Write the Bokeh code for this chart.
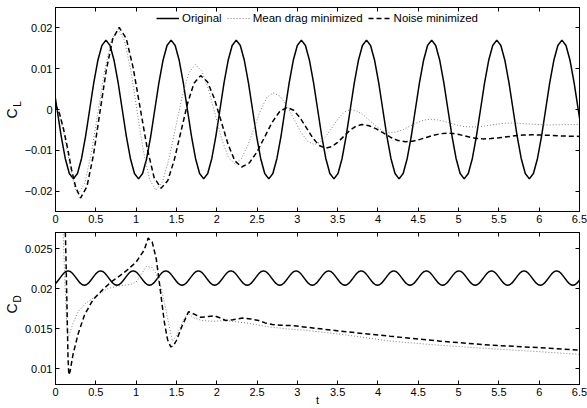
import numpy as np
from bokeh.plotting import figure
from bokeh.models import (Range1d, LinearAxis, FixedTicker, CustomJSTickFormatter,
                          Legend, LegendItem)
from bokeh.layouts import column
from bokeh.embed import file_html
from bokeh.resources import INLINE

FONT = "Liberation Sans"

# ---------------- data ----------------
t_ticks = [0, 0.5, 1, 1.5, 2, 2.5, 3, 3.5, 4, 4.5, 5, 5.5, 6, 6.5]
cl_ticks = [-0.02, -0.01, 0, 0.01, 0.02]
cd_ticks = [0.01, 0.015, 0.02, 0.025]
series_names = ["Original", "Mean drag minimized", "Noise minimized"]

# Original lift coefficient (sampled on a regular time grid)
t_cl_original = np.arange(-1, 130) * 0.0505 + 0.02
cl_original = [
    0.0065, 0.0, -0.0065, -0.012, -0.0157, -0.017, -0.0157, -0.012, -0.0065, 0.0, 0.0065, 0.012, 0.0157, 0.017, 0.0157, 0.012,
    0.0065, 0.0, -0.0065, -0.012, -0.0157, -0.017, -0.0157, -0.012, -0.0065, 0.0, 0.0065, 0.012, 0.0157, 0.017, 0.0157, 0.012,
    0.0065, 0.0, -0.0065, -0.012, -0.0157, -0.017, -0.0157, -0.012, -0.0065, 0.0, 0.0065, 0.012, 0.0157, 0.017, 0.0157, 0.012,
    0.0065, 0.0, -0.0065, -0.012, -0.0157, -0.017, -0.0157, -0.012, -0.0065, 0.0, 0.0065, 0.012, 0.0157, 0.017, 0.0157, 0.012,
    0.0065, 0.0, -0.0065, -0.012, -0.0157, -0.017, -0.0157, -0.012, -0.0065, 0.0, 0.0065, 0.012, 0.0157, 0.017, 0.0157, 0.012,
    0.0065, 0.0, -0.0065, -0.012, -0.0157, -0.017, -0.0157, -0.012, -0.0065, 0.0, 0.0065, 0.012, 0.0157, 0.017, 0.0157, 0.012,
    0.0065, 0.0, -0.0065, -0.012, -0.0157, -0.017, -0.0157, -0.012, -0.0065, 0.0, 0.0065, 0.012, 0.0157, 0.017, 0.0157, 0.012,
    0.0065, 0.0, -0.0065, -0.012, -0.0157, -0.017, -0.0157, -0.012, -0.0065, 0.0, 0.0065, 0.012, 0.0157, 0.017, 0.0157, 0.012,
    0.0065, 0.0, -0.0065,
]

# Original drag coefficient
t_cd_original = np.arange(-1, 259) * 0.02525 + 0.0045
cd_original = [
    0.02047, 0.02066, 0.02096, 0.0213, 0.02164, 0.02194, 0.02213, 0.0222, 0.02213, 0.02194, 0.02164, 0.0213, 0.02096, 0.02066, 0.02047, 0.0204,
    0.02047, 0.02066, 0.02096, 0.0213, 0.02164, 0.02194, 0.02213, 0.0222, 0.02213, 0.02194, 0.02164, 0.0213, 0.02096, 0.02066, 0.02047, 0.0204,
    0.02047, 0.02066, 0.02096, 0.0213, 0.02164, 0.02194, 0.02213, 0.0222, 0.02213, 0.02194, 0.02164, 0.0213, 0.02096, 0.02066, 0.02047, 0.0204,
    0.02047, 0.02066, 0.02096, 0.0213, 0.02164, 0.02194, 0.02213, 0.0222, 0.02213, 0.02194, 0.02164, 0.0213, 0.02096, 0.02066, 0.02047, 0.0204,
    0.02047, 0.02066, 0.02096, 0.0213, 0.02164, 0.02194, 0.02213, 0.0222, 0.02213, 0.02194, 0.02164, 0.0213, 0.02096, 0.02066, 0.02047, 0.0204,
    0.02047, 0.02066, 0.02096, 0.0213, 0.02164, 0.02194, 0.02213, 0.0222, 0.02213, 0.02194, 0.02164, 0.0213, 0.02096, 0.02066, 0.02047, 0.0204,
    0.02047, 0.02066, 0.02096, 0.0213, 0.02164, 0.02194, 0.02213, 0.0222, 0.02213, 0.02194, 0.02164, 0.0213, 0.02096, 0.02066, 0.02047, 0.0204,
    0.02047, 0.02066, 0.02096, 0.0213, 0.02164, 0.02194, 0.02213, 0.0222, 0.02213, 0.02194, 0.02164, 0.0213, 0.02096, 0.02066, 0.02047, 0.0204,
    0.02047, 0.02066, 0.02096, 0.0213, 0.02164, 0.02194, 0.02213, 0.0222, 0.02213, 0.02194, 0.02164, 0.0213, 0.02096, 0.02066, 0.02047, 0.0204,
    0.02047, 0.02066, 0.02096, 0.0213, 0.02164, 0.02194, 0.02213, 0.0222, 0.02213, 0.02194, 0.02164, 0.0213, 0.02096, 0.02066, 0.02047, 0.0204,
    0.02047, 0.02066, 0.02096, 0.0213, 0.02164, 0.02194, 0.02213, 0.0222, 0.02213, 0.02194, 0.02164, 0.0213, 0.02096, 0.02066, 0.02047, 0.0204,
    0.02047, 0.02066, 0.02096, 0.0213, 0.02164, 0.02194, 0.02213, 0.0222, 0.02213, 0.02194, 0.02164, 0.0213, 0.02096, 0.02066, 0.02047, 0.0204,
    0.02047, 0.02066, 0.02096, 0.0213, 0.02164, 0.02194, 0.02213, 0.0222, 0.02213, 0.02194, 0.02164, 0.0213, 0.02096, 0.02066, 0.02047, 0.0204,
    0.02047, 0.02066, 0.02096, 0.0213, 0.02164, 0.02194, 0.02213, 0.0222, 0.02213, 0.02194, 0.02164, 0.0213, 0.02096, 0.02066, 0.02047, 0.0204,
    0.02047, 0.02066, 0.02096, 0.0213, 0.02164, 0.02194, 0.02213, 0.0222, 0.02213, 0.02194, 0.02164, 0.0213, 0.02096, 0.02066, 0.02047, 0.0204,
    0.02047, 0.02066, 0.02096, 0.0213, 0.02164, 0.02194, 0.02213, 0.0222, 0.02213, 0.02194, 0.02164, 0.0213, 0.02096, 0.02066, 0.02047, 0.0204,
    0.02047, 0.02066, 0.02096, 0.0213,
]

# Mean drag minimized: lift
t_cl_meandrag = [
    0, 0.05, 0.1, 0.15, 0.2, 0.24, 0.28, 0.3625, 0.445, 0.5275, 0.61, 0.6925,
    0.775, 0.853, 0.932, 1.01, 1.088, 1.167, 1.245, 1.327, 1.408, 1.49, 1.572, 1.653,
    1.735, 1.817, 1.898, 1.98, 2.062, 2.143, 2.225, 2.304, 2.383, 2.4625, 2.542, 2.621,
    2.70, 2.785, 2.87, 2.955, 3.04, 3.125, 3.21, 3.285, 3.36, 3.435, 3.51, 3.585,
    3.66, 3.742, 3.823, 3.905, 3.987, 4.068, 4.15, 4.233, 4.317, 4.4, 4.483, 4.567,
    4.65, 4.733, 4.817, 4.9, 4.983, 5.067, 5.15, 5.235, 5.32, 5.405, 5.49, 5.575,
    5.66, 5.9, 6.1, 6.3, 6.5,
]
cl_meandrag = [
    0.0012, -0.0012, -0.0055, -0.0105, -0.0157, -0.0192, -0.0208, -0.01809, -0.01067, -0.00055, 0.00958, 0.01699,
    0.0197, 0.01705, 0.00982, -0.00005, -0.00993, -0.01715, -0.0198, -0.01774, -0.0121, -0.0044, 0.0033, 0.00894,
    0.011, 0.00937, 0.00492, -0.00115, -0.00723, -0.01167, -0.0133, -0.01213, -0.00895, -0.0046, -0.00025, 0.00293,
    0.0041, 0.00325, 0.00092, -0.00225, -0.00543, -0.00775, -0.0086, -0.00802, -0.00645, -0.0043, -0.00215, -0.00058,
    0.0, -0.00038, -0.00143, -0.00285, -0.00428, -0.00532, -0.0057, -0.00548, -0.00488, -0.00405, -0.00323, -0.00262,
    -0.0024, -0.00253, -0.00288, -0.00335, -0.00383, -0.00417, -0.0043, -0.00423, -0.00405, -0.0038, -0.00355, -0.00337,
    -0.0033, -0.0036, -0.0038, -0.0037, -0.0037,
]

# Noise minimized: lift
t_cl_noise = [
    0, 0.05, 0.1, 0.15, 0.2, 0.25, 0.31, 0.39, 0.47, 0.55, 0.63, 0.71,
    0.79, 0.877, 0.963, 1.05, 1.137, 1.223, 1.31, 1.392, 1.473, 1.555, 1.637, 1.718,
    1.80, 1.885, 1.97, 2.055, 2.14, 2.225, 2.31, 2.404, 2.498, 2.593, 2.687, 2.781,
    2.875, 2.954, 3.033, 3.113, 3.192, 3.271, 3.35, 3.425, 3.5, 3.575, 3.65, 3.725,
    3.80, 3.89, 3.98, 4.07, 4.16, 4.25, 4.34, 4.427, 4.513, 4.6, 4.687, 4.773,
    4.86, 4.933, 5.007, 5.08, 5.153, 5.227, 5.30, 5.4, 5.5, 5.6, 5.7, 5.8,
    5.9, 6.1, 6.3, 6.5,
]
cl_noise = [
    0.0012, -0.001, -0.0048, -0.0095, -0.0148, -0.019, -0.0217, -0.0189, -0.01125, -0.0008, 0.00965, 0.0173,
    0.0201, 0.01746, 0.01025, 0.0004, -0.00945, -0.01666, -0.0193, -0.01745, -0.0124, -0.0055, 0.0014, 0.00645,
    0.0083, 0.0068, 0.0027, -0.0029, -0.0085, -0.0126, -0.0141, -0.0131, -0.01045, -0.0068, -0.00315, -0.00048,
    0.0005, -0.00017, -0.002, -0.0045, -0.007, -0.00883, -0.0095, -0.00911, -0.00805, -0.0066, -0.00515, -0.00409,
    -0.0037, -0.00398, -0.00475, -0.0058, -0.00685, -0.00762, -0.0079, -0.00776, -0.00738, -0.00685, -0.00633, -0.00594,
    -0.0058, -0.00589, -0.00615, -0.0065, -0.00685, -0.00711, -0.0072, -0.00713, -0.00695, -0.0067, -0.00645, -0.00627,
    -0.0062, -0.0063, -0.0065, -0.0066,
]

# Mean drag minimized: drag
t_cd_meandrag = [
    0, 0.085, 0.095, 0.115, 0.14, 0.155, 0.17, 0.218, 0.28, 0.38,
    0.51, 0.65, 0.77, 0.85, 0.93, 1.0, 1.06, 1.13, 1.2, 1.245,
    1.307, 1.369, 1.41, 1.45, 1.5, 1.58, 1.64, 1.72, 1.82, 1.95,
    2.11, 2.36, 2.65, 2.92, 3.08, 3.6, 4.15, 4.77, 5.39, 6.0, 6.5,
]
cd_meandrag = [
    0.05, 0.03, 0.027, 0.021, 0.0155, 0.0139, 0.0142, 0.0157, 0.0171, 0.0182,
    0.0191, 0.0200, 0.0203, 0.0204, 0.0205, 0.0208, 0.0217, 0.0228, 0.0226, 0.0219,
    0.0202, 0.0174, 0.0153, 0.0134, 0.0141, 0.0159, 0.0169, 0.0163, 0.016, 0.0159,
    0.016, 0.0157, 0.0152, 0.0149, 0.0148, 0.0142, 0.01342, 0.0129, 0.01248, 0.0121, 0.01177,
]

# Noise minimized: drag
t_cd_noise = [
    0, 0.11, 0.125, 0.14, 0.155, 0.165, 0.18, 0.218, 0.28, 0.36,
    0.465, 0.6, 0.7, 0.8, 0.9, 1.0, 1.1, 1.15, 1.2, 1.25,
    1.3, 1.35, 1.39, 1.43, 1.46, 1.5, 1.57, 1.65, 1.72, 1.8,
    1.9, 1.97, 2.05, 2.11, 2.2, 2.32, 2.42, 2.52, 2.6, 2.69,
    2.8, 2.92, 3.08, 3.53, 4.15, 4.77, 5.39, 6.01, 6.5,
]
cd_noise = [
    0.05, 0.031, 0.026, 0.019, 0.0115, 0.0092, 0.0096, 0.0118, 0.0143, 0.0167,
    0.0186, 0.0200, 0.0209, 0.0216, 0.0224, 0.0233, 0.0248, 0.0263, 0.0258, 0.0237,
    0.0198, 0.0158, 0.0136, 0.0127, 0.0128, 0.0135, 0.0153, 0.0171, 0.0168, 0.0164,
    0.0165, 0.0166, 0.0163, 0.016, 0.0161, 0.0163, 0.0162, 0.016, 0.0157, 0.0155,
    0.0154, 0.01537, 0.0152, 0.01467, 0.01404, 0.01342, 0.01293, 0.0126, 0.0123,
]

# ---------------- styles ----------------
STYLE_ORIG = dict(line_color="black", line_width=1.5)
STYLE_DRAG = dict(line_color="#808080", line_width=1.0, line_dash="1 2")
STYLE_NOISE = dict(line_color="black", line_width=1.5, line_dash="5 3")
NBSP = "\u00a0"

TICK_JS = r"""
const v = parseFloat(tick.toFixed(6));
if (v < 0) { return "\u2212" + String(-v); }
return String(v);
"""


def hide_labels(ax):
    ax.major_label_text_font_size = "0px"
    ax.major_label_text_color = None
    ax.major_label_standoff = 0


def make_fig(height, y_lo, y_hi, yticks, min_top, min_bottom,
             main_sym, sub_sym, sub_standoff, main_standoff):
    p = figure(width=587, height=height,
               x_range=Range1d(0, 6.5), y_range=Range1d(y_lo, y_hi),
               output_backend="svg", toolbar_location=None,
               min_border_left=54, min_border_right=8,
               min_border_top=min_top, min_border_bottom=min_bottom,
               background_fill_color="white", border_fill_color="white",
               outline_line_color="black", outline_line_width=1)
    p.grid.visible = False
    p.xaxis.ticker = FixedTicker(ticks=t_ticks)
    p.yaxis.ticker = FixedTicker(ticks=yticks)
    p.xaxis.formatter = CustomJSTickFormatter(code=TICK_JS)
    p.yaxis.formatter = CustomJSTickFormatter(code=TICK_JS)
    top = LinearAxis(ticker=FixedTicker(ticks=t_ticks))
    right = LinearAxis(ticker=FixedTicker(ticks=yticks))
    p.add_layout(top, "above")
    p.add_layout(right, "right")
    for ax in p.axis:
        ax.major_tick_in = 4
        ax.major_tick_out = 0
        ax.minor_tick_line_color = None
        ax.axis_line_color = "black"
        ax.major_tick_line_color = "black"
        ax.major_label_text_font = FONT
        ax.major_label_text_font_size = "11px"
        ax.major_label_text_color = "black"
        ax.major_label_standoff = 3
    hide_labels(top)
    hide_labels(right)

    # y-axis label: subscript on the main (inner) axis, main symbol on an outer axis
    inner = p.left[0]
    inner.axis_label = sub_sym
    inner.axis_label_text_font = FONT
    inner.axis_label_text_font_size = "10px"
    inner.axis_label_text_font_style = "normal"
    inner.axis_label_text_color = "black"
    inner.axis_label_standoff = sub_standoff

    outer = LinearAxis(ticker=FixedTicker(ticks=[]), axis_label=main_sym,
                       axis_label_text_font=FONT, axis_label_text_font_size="14px",
                       axis_label_text_font_style="normal", axis_label_text_color="black",
                       axis_label_standoff=main_standoff,
                       axis_line_color=None, major_tick_line_color=None,
                       minor_tick_line_color=None, major_tick_in=0, major_tick_out=0)
    hide_labels(outer)
    p.add_layout(outer, "left")
    return p


# ---------------- top: lift ----------------
p1 = make_fig(229, -0.025, 0.025, cl_ticks, 7, 18,
              "C" + NBSP * 2, NBSP * 4 + "L", -1, -11)
r_o = p1.line(t_cl_original, cl_original, **STYLE_ORIG)
r_d = p1.line(t_cl_meandrag, cl_meandrag, **STYLE_DRAG)
r_n = p1.line(t_cl_noise, cl_noise, **STYLE_NOISE)

legend = Legend(items=[LegendItem(label=series_names[0], renderers=[r_o]),
                       LegendItem(label=series_names[1], renderers=[r_d]),
                       LegendItem(label=series_names[2], renderers=[r_n])],
                location="top_center", orientation="horizontal",
                glyph_width=23, glyph_height=12, label_standoff=3, spacing=5,
                padding=0, margin=5, border_line_alpha=0, background_fill_alpha=0,
                label_text_font=FONT, label_text_font_size="11.5px",
                label_text_color="black")
p1.add_layout(legend, "center")

# ---------------- bottom: drag ----------------
p2 = make_fig(179, 0.008, 0.027, cd_ticks, 3, 23,
              "C", NBSP * 7 + "D", -1, -11)
p2.line(t_cd_original, cd_original, **STYLE_ORIG)
p2.line(t_cd_meandrag, cd_meandrag, **STYLE_DRAG)
p2.line(t_cd_noise, cd_noise, **STYLE_NOISE)

xb = p2.below[0]
xb.axis_label = "t"
xb.axis_label_text_font = FONT
xb.axis_label_text_font_size = "11px"
xb.axis_label_text_font_style = "normal"
xb.axis_label_text_color = "black"
xb.axis_label_standoff = -5

layout = column(p1, p2)
open("out.html", "w").write(file_html(layout, INLINE))
